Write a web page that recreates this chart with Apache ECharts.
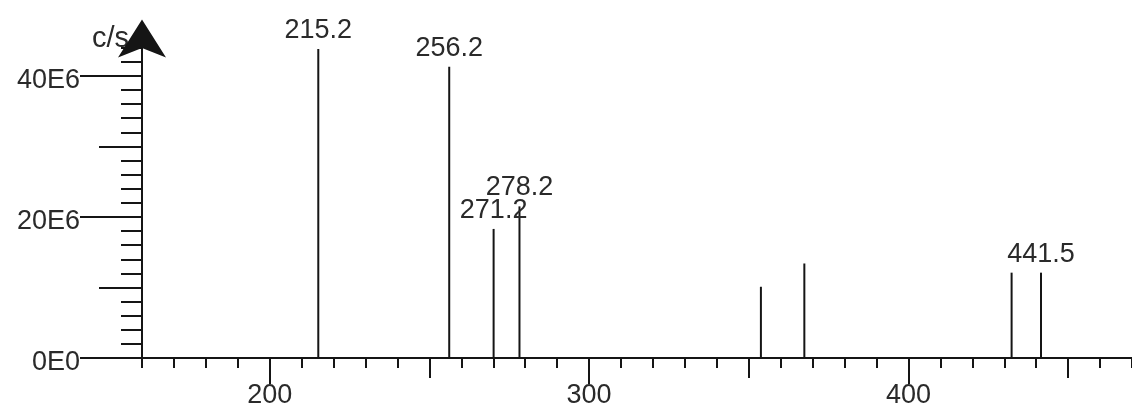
<!DOCTYPE html>
<html>
<head>
<meta charset="utf-8">
<script src="https://cdn.jsdelivr.net/npm/echarts@6/dist/echarts.min.js"></script>
<style>
html,body{margin:0;padding:0;background:#fff;}
#chart{width:1132px;height:407px;}
</style>
</head>
<body>
<div id="chart"></div>
<script>
// m/z positions of the peaks
var peakMz = [215.2, 256.2, 270.1, 278.2, 353.8, 367.4, 432.3, 441.5];
// intensities (c/s)
var peakIntensity = [43.8e6, 41.3e6, 18.3e6, 21.5e6, 10.1e6, 13.4e6, 12.1e6, 12.1e6];
// peak labels ('' = no label)
var peakLabels = ['215.2', '256.2', '271.2', '278.2', '', '', '', '441.5'];

// x ticks
var xMajorTicks = [200, 300, 400];
var xMajorLabels = ['200', '300', '400'];
var xMediumTicks = [250, 350, 450];
var xMinorTicks = [160,170,180,190,210,220,230,240,260,270,280,290,310,320,330,340,360,370,380,390,410,420,430,440,460,470];

// y ticks
var yMajorTicks = [0, 20e6, 40e6];
var yMajorLabels = ['0E0', '20E6', '40E6'];
var yMediumTicks = [10e6, 30e6];
var yMinorTicks = [2e6,4e6,6e6,8e6,12e6,14e6,16e6,18e6,22e6,24e6,26e6,28e6,32e6,34e6,36e6,38e6,42e6,44e6];

var X_MIN = 160, X_MAX = 470, Y_MIN = 0, Y_MAX = 45.3e6;
var INK = '#151515';
var TXT = '#2a2a2a';
var FONT = 'Liberation Sans';
var FS = 27;

function xAx(ticks, len, labels) {
  return {
    type: 'value', min: X_MIN, max: X_MAX, position: 'bottom',
    axisLine: { show: true, onZero: false, lineStyle: { color: INK, width: 2 } },
    axisTick: { show: true, length: len, customValues: ticks, lineStyle: { color: INK, width: 2 } },
    axisLabel: labels ? {
      show: true, customValues: ticks, margin: 24, color: TXT, fontFamily: FONT, fontSize: FS,
      formatter: function (v) { return labels[ticks.indexOf(v)]; }
    } : { show: false },
    splitLine: { show: false }
  };
}
function yAx(ticks, len, labels, main) {
  var a = {
    type: 'value', min: Y_MIN, max: Y_MAX, position: 'left',
    axisLine: { show: !!main, onZero: false, lineStyle: { color: INK, width: 2 } },
    axisTick: { show: true, length: len, customValues: ticks, lineStyle: { color: INK, width: 2 } },
    axisLabel: labels ? {
      show: true, customValues: ticks, margin: len, color: TXT, fontFamily: FONT, fontSize: FS,
      verticalAlign: 'top', lineHeight: 10,
      formatter: function (v) { return labels[ticks.indexOf(v)]; }
    } : { show: false },
    splitLine: { show: false }
  };
  if (main) {
    a.axisLine.symbol = ['none', 'arrow'];
    a.axisLine.symbolSize = [36, 38];
    a.axisLine.symbolOffset = [0, 19];
    a.name = 'c/s';
    a.nameLocation = 'end';
    a.nameGap = 0;
    a.nameTextStyle = { color: TXT, fontFamily: FONT, fontSize: 29, align: 'right', verticalAlign: 'middle', padding: [4, 13, 0, 0] };
  }
  return a;
}

var data = peakMz.map(function (m, i) {
  return {
    value: [m, peakIntensity[i]],
    label: { show: peakLabels[i] !== '' }
  };
});

var chart = echarts.init(document.getElementById('chart'), null, { renderer: 'canvas' });
chart.setOption({
  animation: false,
  backgroundColor: '#fff',
  grid: { left: 142, right: 0, top: 38.5, bottom: 49, containLabel: false, outerBoundsMode: 'none' },
  xAxis: [xAx(xMinorTicks, 10, null), xAx(xMediumTicks, 20, null), xAx(xMajorTicks, 26, xMajorLabels)],
  yAxis: [yAx(yMinorTicks, 21, null, true), yAx(yMediumTicks, 43, null, false), yAx(yMajorTicks, 62, yMajorLabels, false)],
  series: [{
    type: 'bar',
    xAxisIndex: 0, yAxisIndex: 0,
    barWidth: 2,
    itemStyle: { color: INK },
    label: {
      position: 'top', distance: 5, color: TXT, fontFamily: FONT, fontSize: FS,
      formatter: function (p) { return peakLabels[p.dataIndex]; }
    },
    data: data
  }]
});
</script>
</body>
</html>
